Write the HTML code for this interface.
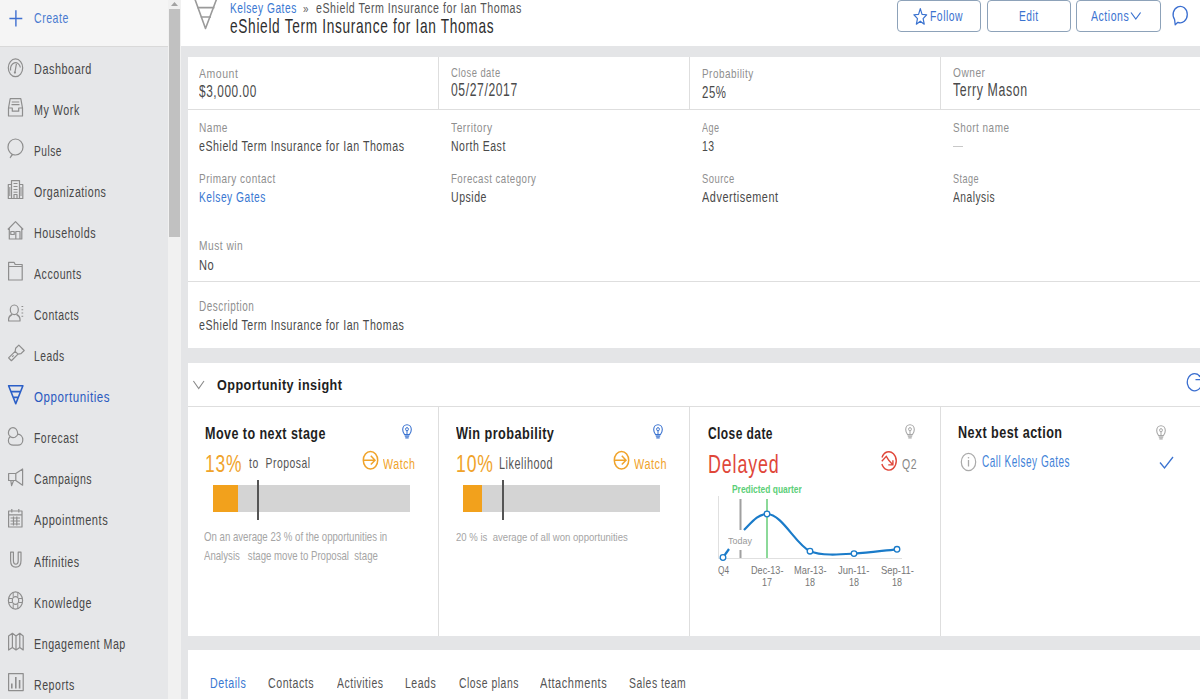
<!DOCTYPE html>
<html><head><meta charset="utf-8"><style>
html,body{margin:0;padding:0;width:1200px;height:700px;overflow:hidden;background:#e4e5e7;}
body{position:relative;font-family:"Liberation Sans",sans-serif;}
.r{position:absolute;box-sizing:content-box;}
.t{position:absolute;white-space:nowrap;line-height:1;transform-origin:0 0;}
</style></head><body>
<div class="r" style="left:0px;top:0px;width:168px;height:700px;background:#e6e7e9;"></div>
<div class="r" style="left:0px;top:0px;width:168px;height:46px;background:#f5f5f5;"></div>
<div class="r" style="left:0px;top:46px;width:168px;height:1px;background:#d9d9d9;"></div>
<div class="r" style="left:168px;top:0px;width:13px;height:700px;background:#f1f1f1;"></div>
<div class="r" style="left:169px;top:9px;width:11px;height:228px;background:#c1c1c1;"></div>
<svg class="r" style="left:168px;top:0px" width="13" height="9"><path d="M3 6 L6.5 2 L10 6 Z" fill="#a3a3a3"/></svg>
<div class="r" style="left:181px;top:0px;width:1019px;height:700px;background:#e4e5e7;"></div>
<div class="r" style="left:181px;top:0px;width:1019px;height:46px;background:#ffffff;"></div>
<div class="r" style="left:188px;top:57px;width:1012px;height:291px;background:#ffffff;"></div>
<div class="r" style="left:188px;top:363px;width:1012px;height:273px;background:#ffffff;"></div>
<div class="r" style="left:188px;top:650px;width:1012px;height:50px;background:#ffffff;"></div>
<div class="r" style="left:0px;top:699px;width:188px;height:1px;background:#fbfbfb;"></div>
<svg class="r" style="left:0;top:0" width="30" height="30"><path d="M15.9 10.3 V26.6 M9.4 18.5 H22.3" stroke="#3f6fd0" stroke-width="1.4" fill="none"/></svg>
<div class="t" id="t0" style="left:34.30px;top:11.10px;font-size:14.78px;color:#4a7bd0;letter-spacing:0.739px;transform:scaleX(0.7139);">Create</div>
<div class="t" id="t1" style="left:34.30px;top:61.71px;font-size:14.93px;color:#484848;letter-spacing:0.746px;transform:scaleX(0.7269);">Dashboard</div>
<div class="t" id="t2" style="left:34.30px;top:102.78px;font-size:14.93px;color:#484848;letter-spacing:0.746px;transform:scaleX(0.7173);">My Work</div>
<div class="t" id="t3" style="left:34.30px;top:143.84px;font-size:14.93px;color:#484848;letter-spacing:0.746px;transform:scaleX(0.6811);">Pulse</div>
<div class="t" id="t4" style="left:34.30px;top:184.93px;font-size:14.93px;color:#484848;letter-spacing:0.746px;transform:scaleX(0.7115);">Organizations</div>
<div class="t" id="t5" style="left:34.30px;top:225.98px;font-size:14.93px;color:#484848;letter-spacing:0.746px;transform:scaleX(0.7202);">Households</div>
<div class="t" id="t6" style="left:34.30px;top:267.06px;font-size:14.93px;color:#484848;letter-spacing:0.746px;transform:scaleX(0.7090);">Accounts</div>
<div class="t" id="t7" style="left:34.30px;top:308.13px;font-size:14.93px;color:#484848;letter-spacing:0.746px;transform:scaleX(0.6995);">Contacts</div>
<div class="t" id="t8" style="left:34.30px;top:349.21px;font-size:14.93px;color:#484848;letter-spacing:0.746px;transform:scaleX(0.6883);">Leads</div>
<div class="t" id="t9" style="left:34.30px;top:390.26px;font-size:14.93px;color:#2a5ac0;letter-spacing:0.746px;transform:scaleX(0.7742);">Opportunities</div>
<div class="t" id="t10" style="left:34.30px;top:431.34px;font-size:14.93px;color:#484848;letter-spacing:0.746px;transform:scaleX(0.6968);">Forecast</div>
<div class="t" id="t11" style="left:34.30px;top:472.41px;font-size:14.93px;color:#484848;letter-spacing:0.746px;transform:scaleX(0.7079);">Campaigns</div>
<div class="t" id="t12" style="left:34.30px;top:513.49px;font-size:14.93px;color:#484848;letter-spacing:0.746px;transform:scaleX(0.7413);">Appointments</div>
<div class="t" id="t13" style="left:34.30px;top:554.54px;font-size:14.93px;color:#484848;letter-spacing:0.746px;transform:scaleX(0.7192);">Affinities</div>
<div class="t" id="t14" style="left:34.30px;top:595.62px;font-size:14.93px;color:#484848;letter-spacing:0.746px;transform:scaleX(0.7187);">Knowledge</div>
<div class="t" id="t15" style="left:34.30px;top:636.69px;font-size:14.93px;color:#484848;letter-spacing:0.746px;transform:scaleX(0.7162);">Engagement Map</div>
<div class="t" id="t16" style="left:34.30px;top:677.76px;font-size:14.93px;color:#484848;letter-spacing:0.746px;transform:scaleX(0.7104);">Reports</div>
<svg class="r" style="left:0;top:0" width="30" height="700" viewBox="0 0 30 700"><g stroke="#8e8e8e" stroke-width="1.2" fill="none" stroke-linejoin="round">
<ellipse cx="15.5" cy="67.8" rx="7.2" ry="8.9"/><path d="M10.6 70.5 A5 6.2 0 0 1 20.4 67.5"/><path d="M14.9 72.5 L16.4 63.8"/><circle cx="14.9" cy="72.6" r="1.1" fill="#8e8e8e" stroke="none"/>
<path d="M10.2 98.6 H20.8 L22.5 108 V116 H8.5 V108 Z M8.5 108 H12.3 V111.2 H18.7 V108 H22.5 M11.8 102 H19.2 M11.5 104.6 H19.5"/>
<path d="M12.2 154.3 C9.6 152.6 8 150 8 147 C8 142.5 11.3 139 15.5 139 C19.7 139 23 142.5 23 147 C23 151.5 19.7 155 15.5 155 C14.5 155 13.6 154.8 12.7 154.5 L10.3 157.5 Z"/>
<path d="M11.5 198.5 V180.6 H19.5 V198.5 M8.3 198.5 V184.5 H11.5 M19.5 184.5 H22.8 V198.5 M7.8 198.5 H23.3 M14 198.5 V194.5 H17 V198.5"/>
<path d="M13.5 183.5 H17.5 M13.5 186.5 H17.5 M13.5 189.5 H17.5 M13.5 192.2 H17.5 M9.8 187 V196 M21 187 V196" stroke-width="1"/>
<path d="M7.8 229.5 L15.5 221.6 L23.2 229.5 M9.3 228 V239 H21.8 V228 M15.8 239 V231.5 H20 V239 M10.8 231.5 H14.2 V234.5 H10.8 Z"/>
<path d="M8.6 262.4 H14.2 L15.2 264.5 H22.2 V280 H8.6 Z M8.6 266.5 H22.2"/>
<ellipse cx="14.3" cy="309.8" rx="4" ry="4.8"/><path d="M12.2 314.4 C10 315.6 8.6 317.2 8.6 319 V321 H20 V319 C20 317.2 18.6 315.6 16.4 314.4"/>
<path d="M21.5 306.5 H23.2 M21.5 309.8 H23.2 M21.5 313 H23.2 M21.5 316.3 H23.2" stroke-width="1.1"/>
<g transform="translate(15.5 353.8) rotate(-45)"><path d="M-7.8 -2 H1.5 V2 H-7.8 Z M1.5 -2 L4 -3.8 H8.5 V3.8 H4 L1.5 2 M-4.5 -0.2 H-2.5"/></g>
<path d="M8.6 385.7 H22.9 L15.75 403.7 Z M11 391.6 H20.5 M13.3 397.4 H18.2" stroke="#2b5fc7" stroke-width="1.6"/>
<path d="M10.6 436 C9.2 437.3 8.4 439 8.4 440.8 C8.4 443.4 10.6 445.2 13.2 445.2 H17.8 C20.6 445.2 22.8 443 22.8 440 C22.8 436.8 20.6 434.3 17.8 434.2 C17.6 430.3 15.5 427.6 13 427.6 C10.3 427.6 8.4 430.2 8.4 433 C8.4 436.4 11.8 438.3 15 437.2 C16.5 436.4 17.5 435.5 17.8 434.2"/>
<path d="M8.6 473.5 H15.8 V480.5 H8.6 Z M15.8 473.5 L22.6 469 V485.2 L15.8 480.5 M10.8 480.5 L11.6 485.6 L13.6 480.5"/>
<path d="M8.6 511 H22 V527 H8.6 Z M8.6 514.8 H22 M11.8 509 V512.5 M18.8 509 V512.5 M10.5 518 H20 M10.5 521 H20 M10.5 524 H20 M13.5 516.5 V525.5 M16.8 516.5 V525.5" />
<path d="M10.6 552.2 V560.5 C10.6 564.8 12.8 567.2 15.8 567.2 C18.8 567.2 21 564.8 21 560.5 V552.2 H18.2 V560.5 C18.2 562.8 17.2 564.2 15.8 564.2 C14.4 564.2 13.4 562.8 13.4 560.5 V552.2 Z"/>
<ellipse cx="15.5" cy="600.5" rx="7.1" ry="8.6"/><ellipse cx="15.5" cy="600.5" rx="3.2" ry="3.9"/><path d="M13.2 592.5 V596.8 M17.8 592.5 V596.8 M13.2 604.2 V608.5 M17.8 604.2 V608.5 M8.6 598.5 H12.3 M8.6 602.5 H12.3 M18.7 598.5 H22.4 M18.7 602.5 H22.4" stroke-width="1"/>
<path d="M8.6 636 L12.4 633.3 L16 636 L19.8 633.3 L23.2 636 V650 L19.8 647.4 L16 650 L12.4 647.4 L8.6 650 Z M12.4 633.3 V647.4 M16 636 V650 M19.8 633.3 V647.4"/>
<path d="M8.6 673.6 H23.2 V690.6 H8.6 Z"/><path d="M11.8 683.5 V688.6 M15.8 677 V688.6 M19.6 680 V688.6" stroke-width="1.6"/>
</g></svg>
<svg class="r" style="left:190px;top:0" width="32" height="32"><path d="M4.5 -2 L15.5 28.5 L27 -2" stroke="#9a9a9a" stroke-width="1.6" fill="none" stroke-linejoin="round"/><path d="M7.4 7.6 H24.4 M10.8 17 H21" stroke="#9a9a9a" stroke-width="1.6"/></svg>
<div class="t" id="t17" style="left:230.00px;top:1.30px;font-size:14.49px;color:#3a78d2;letter-spacing:0.725px;transform:scaleX(0.7038);">Kelsey Gates</div>
<div class="t" id="t18" style="left:302.50px;top:2.81px;font-size:12.03px;color:#666;letter-spacing:0.601px;transform:scaleX(0.8165);">»</div>
<div class="t" id="t19" style="left:315.80px;top:1.30px;font-size:14.49px;color:#555;letter-spacing:0.725px;transform:scaleX(0.7355);">eShield Term Insurance for Ian Thomas</div>
<div class="t" id="t20" style="left:230.00px;top:16.71px;font-size:19.42px;color:#2e2e2e;letter-spacing:0.971px;transform:scaleX(0.7046);">eShield Term Insurance for Ian Thomas</div>
<div class="r" style="left:897px;top:0px;width:82px;height:30px;border:1px solid #8da2b9;border-radius:4px;background:#fff"></div>
<div class="r" style="left:987px;top:0px;width:82px;height:30px;border:1px solid #8da2b9;border-radius:4px;background:#fff"></div>
<div class="r" style="left:1076px;top:0px;width:83px;height:30px;border:1px solid #8da2b9;border-radius:4px;background:#fff"></div>
<svg class="r" style="left:912px;top:6px" width="17" height="20"><path d="M8.30 2.6 L10.04 8.33 L14.68 8.74 L11.12 12.57 L12.24 18.2 L8.30 15.2 L4.36 18.2 L5.48 12.57 L1.92 8.74 L6.56 8.33 Z" stroke="#3b73d0" stroke-width="1.2" fill="none" stroke-linejoin="round"/></svg>
<div class="t" id="t21" style="left:930.25px;top:9.26px;font-size:14.49px;color:#3b73d0;letter-spacing:0.725px;transform:scaleX(0.7174);">Follow</div>
<div class="t" id="t22" style="left:1018.75px;top:9.26px;font-size:14.49px;color:#3b73d0;letter-spacing:0.725px;transform:scaleX(0.7065);">Edit</div>
<div class="t" id="t23" style="left:1091.25px;top:9.26px;font-size:14.49px;color:#3b73d0;letter-spacing:0.725px;transform:scaleX(0.7276);">Actions</div>
<svg class="r" style="left:1130px;top:10px" width="12" height="12"><path d="M1 2.5 L5.8 9 L10.6 2.5" stroke="#3b73d0" stroke-width="1.2" fill="none"/></svg>
<svg class="r" style="left:1169px;top:4px" width="22" height="24"><path d="M5.6 15.6 A7.1 8.2 0 1 1 8.9 18.3 L6.2 20.8 Z" stroke="#3b6fd0" stroke-width="1.3" fill="none" stroke-linejoin="round"/></svg>
<div class="r" style="left:188px;top:109px;width:1012px;height:1px;background:#dedede;"></div>
<div class="r" style="left:438px;top:57px;width:1px;height:52px;background:#dedede;"></div>
<div class="r" style="left:689px;top:57px;width:1px;height:52px;background:#dedede;"></div>
<div class="r" style="left:940px;top:57px;width:1px;height:52px;background:#dedede;"></div>
<div class="r" style="left:188px;top:281px;width:1012px;height:1px;background:#dedede;"></div>
<div class="t" id="t24" style="left:199.00px;top:67.91px;font-size:12.46px;color:#8f8f8f;letter-spacing:0.623px;transform:scaleX(0.8435);">Amount</div>
<div class="t" id="t25" style="left:450.60px;top:65.71px;font-size:13.19px;color:#8f8f8f;letter-spacing:0.659px;transform:scaleX(0.7118);">Close date</div>
<div class="t" id="t26" style="left:701.70px;top:66.82px;font-size:13.19px;color:#8f8f8f;letter-spacing:0.659px;transform:scaleX(0.7524);">Probability</div>
<div class="t" id="t27" style="left:952.80px;top:66.70px;font-size:12.32px;color:#8f8f8f;letter-spacing:0.616px;transform:scaleX(0.8246);">Owner</div>
<div class="t" id="t28" style="left:199.00px;top:84.41px;font-size:15.94px;color:#4a4a4a;letter-spacing:0.797px;transform:scaleX(0.7424);">$3,000.00</div>
<div class="t" id="t29" style="left:450.60px;top:80.70px;font-size:18.55px;color:#4a4a4a;letter-spacing:0.928px;transform:scaleX(0.6548);">05/27/2017</div>
<div class="t" id="t30" style="left:701.70px;top:85.01px;font-size:15.94px;color:#4a4a4a;letter-spacing:0.797px;transform:scaleX(0.7169);">25%</div>
<div class="t" id="t31" style="left:952.80px;top:81.71px;font-size:17.54px;color:#4a4a4a;letter-spacing:0.877px;transform:scaleX(0.7052);">Terry Mason</div>
<div class="t" id="t32" style="left:199.20px;top:121.21px;font-size:13.48px;color:#8f8f8f;letter-spacing:0.674px;transform:scaleX(0.7498);">Name</div>
<div class="t" id="t33" style="left:450.60px;top:121.20px;font-size:13.48px;color:#8f8f8f;letter-spacing:0.674px;transform:scaleX(0.7604);">Territory</div>
<div class="t" id="t34" style="left:701.70px;top:121.20px;font-size:13.48px;color:#8f8f8f;letter-spacing:0.674px;transform:scaleX(0.6748);">Age</div>
<div class="t" id="t35" style="left:952.80px;top:121.20px;font-size:13.48px;color:#8f8f8f;letter-spacing:0.674px;transform:scaleX(0.7393);">Short name</div>
<div class="t" id="t36" style="left:199.00px;top:139.01px;font-size:14.93px;color:#4a4a4a;letter-spacing:0.746px;transform:scaleX(0.7127);">eShield Term Insurance for Ian Thomas</div>
<div class="t" id="t37" style="left:450.60px;top:139.01px;font-size:14.93px;color:#4a4a4a;letter-spacing:0.746px;transform:scaleX(0.7035);">North East</div>
<div class="t" id="t38" style="left:701.70px;top:140.00px;font-size:13.91px;color:#4a4a4a;letter-spacing:0.696px;transform:scaleX(0.7497);">13</div>
<div class="r" style="left:953px;top:146px;width:10px;height:1px;background:#c8c8c8;"></div>
<div class="t" id="t39" style="left:199.00px;top:172.01px;font-size:13.33px;color:#8f8f8f;letter-spacing:0.667px;transform:scaleX(0.7480);">Primary contact</div>
<div class="t" id="t40" style="left:450.60px;top:172.01px;font-size:13.33px;color:#8f8f8f;letter-spacing:0.667px;transform:scaleX(0.7236);">Forecast category</div>
<div class="t" id="t41" style="left:701.70px;top:172.01px;font-size:13.33px;color:#8f8f8f;letter-spacing:0.667px;transform:scaleX(0.7083);">Source</div>
<div class="t" id="t42" style="left:952.80px;top:172.01px;font-size:13.33px;color:#8f8f8f;letter-spacing:0.667px;transform:scaleX(0.6833);">Stage</div>
<div class="t" id="t43" style="left:199.00px;top:189.41px;font-size:15.07px;color:#3a78d2;letter-spacing:0.754px;transform:scaleX(0.6778);">Kelsey Gates</div>
<div class="t" id="t44" style="left:450.60px;top:189.41px;font-size:15.07px;color:#4a4a4a;letter-spacing:0.754px;transform:scaleX(0.6990);">Upside</div>
<div class="t" id="t45" style="left:701.70px;top:189.41px;font-size:15.07px;color:#4a4a4a;letter-spacing:0.754px;transform:scaleX(0.7223);">Advertisement</div>
<div class="t" id="t46" style="left:952.80px;top:189.41px;font-size:15.07px;color:#4a4a4a;letter-spacing:0.754px;transform:scaleX(0.6781);">Analysis</div>
<div class="t" id="t47" style="left:199.00px;top:238.70px;font-size:13.04px;color:#8f8f8f;letter-spacing:0.652px;transform:scaleX(0.7809);">Must win</div>
<div class="t" id="t48" style="left:199.00px;top:257.60px;font-size:14.49px;color:#4a4a4a;letter-spacing:0.725px;transform:scaleX(0.7678);">No</div>
<div class="t" id="t49" style="left:199.00px;top:299.01px;font-size:14.93px;color:#8f8f8f;letter-spacing:0.746px;transform:scaleX(0.6662);">Description</div>
<div class="t" id="t50" style="left:199.00px;top:317.32px;font-size:15.51px;color:#4a4a4a;letter-spacing:0.775px;transform:scaleX(0.6860);">eShield Term Insurance for Ian Thomas</div>
<div class="r" style="left:188px;top:406px;width:1012px;height:1px;background:#dedede;"></div>
<div class="r" style="left:438px;top:407px;width:1px;height:229px;background:#dedede;"></div>
<div class="r" style="left:689px;top:407px;width:1px;height:229px;background:#dedede;"></div>
<div class="r" style="left:940px;top:407px;width:1px;height:229px;background:#dedede;"></div>
<svg class="r" style="left:192px;top:378px" width="14" height="14"><path d="M1.4 3 L6.7 10.5 L12 3" stroke="#8a8a8a" stroke-width="1.1" fill="none"/></svg>
<div class="t" id="t51" style="left:216.60px;top:377.31px;font-size:15.22px;color:#1e1e1e;font-weight:bold;letter-spacing:0.533px;transform:scaleX(0.8289);">Opportunity insight</div>
<svg class="r" style="left:1176px;top:366px" width="24" height="32" viewBox="1176 366 24 32"><path d="M1200.19 376.67 A7.3 8.6 0 1 0 1201.65 384.43" stroke="#3b6fd0" stroke-width="1.3" fill="none"/><path d="M1195.5 379.6 H1203 M1199 375.5 L1203 379.6" stroke="#3b6fd0" stroke-width="1.4" fill="none"/></svg>
<div class="t" id="t52" style="left:205.00px;top:426.01px;font-size:15.65px;color:#1e1e1e;font-weight:bold;letter-spacing:0.548px;transform:scaleX(0.8024);">Move to next stage</div>
<svg class="r" style="left:402.3px;top:423.5px" width="10" height="16" viewBox="0 0 10 16"><path d="M2.6 10.6 C1.4 9.3 0.7 7.6 0.7 5.6 C0.7 2.8 2.6 0.7 5 0.7 C7.4 0.7 9.3 2.8 9.3 5.6 C9.3 7.6 8.6 9.3 7.4 10.6 Z" stroke="#3b73d0" stroke-width="1.1" fill="none"/><ellipse cx="5" cy="5.2" rx="1.4" ry="1.6" stroke="#3b73d0" stroke-width="1" fill="none"/><path d="M5 6.8 V10.6" stroke="#3b73d0" stroke-width="1"/><path d="M2.8 12.2 H7.2 M3.3 13.9 H6.7" stroke="#3b73d0" stroke-width="1.3"/></svg>
<div class="t" id="t53" style="left:205.00px;top:452.01px;font-size:24.64px;color:#f0a32a;letter-spacing:1.232px;transform:scaleX(0.7074);">13%</div>
<div class="t" id="t54" style="left:248.75px;top:456.40px;font-size:14.20px;color:#555;letter-spacing:0.710px;transform:scaleX(0.7322);">to&nbsp;&nbsp;Proposal</div>
<svg class="r" style="left:361.5px;top:450px" width="18" height="21"><ellipse cx="8.5" cy="10.2" rx="7.2" ry="8.8" stroke="#f0a32a" stroke-width="1.5" fill="none"/><path d="M1.5 10.2 H13 M8.8 5.8 L13 10.2 L8.8 14.6" stroke="#f0a32a" stroke-width="1.5" fill="none"/></svg>
<div class="t" id="t55" style="left:383.00px;top:455.90px;font-size:15.51px;color:#f0a32a;letter-spacing:0.775px;transform:scaleX(0.6879);">Watch</div>
<div class="r" style="left:213px;top:485px;width:197px;height:27px;background:#d4d4d4;"></div>
<div class="r" style="left:213px;top:485px;width:25px;height:27px;background:#f2a11c;"></div>
<div class="r" style="left:256.5px;top:480px;width:2.0px;height:40px;background:#555;"></div>
<div class="t" id="t56" style="left:204.40px;top:530.80px;font-size:12.03px;color:#a5a5a5;transform:scaleX(0.8016);">On an average 23 % of the opportunities in</div>
<div class="t" id="t57" style="left:204.40px;top:550.01px;font-size:12.32px;color:#a5a5a5;transform:scaleX(0.7816);">Analysis&nbsp;&nbsp;&nbsp;stage&nbsp;move&nbsp;to&nbsp;Proposal&nbsp;&nbsp;stage</div>
<div class="t" id="t58" style="left:456.00px;top:426.01px;font-size:15.94px;color:#1e1e1e;font-weight:bold;letter-spacing:0.558px;transform:scaleX(0.7973);">Win probability</div>
<svg class="r" style="left:653.3px;top:423.5px" width="10" height="16" viewBox="0 0 10 16"><path d="M2.6 10.6 C1.4 9.3 0.7 7.6 0.7 5.6 C0.7 2.8 2.6 0.7 5 0.7 C7.4 0.7 9.3 2.8 9.3 5.6 C9.3 7.6 8.6 9.3 7.4 10.6 Z" stroke="#3b73d0" stroke-width="1.1" fill="none"/><ellipse cx="5" cy="5.2" rx="1.4" ry="1.6" stroke="#3b73d0" stroke-width="1" fill="none"/><path d="M5 6.8 V10.6" stroke="#3b73d0" stroke-width="1"/><path d="M2.8 12.2 H7.2 M3.3 13.9 H6.7" stroke="#3b73d0" stroke-width="1.3"/></svg>
<div class="t" id="t59" style="left:456.00px;top:452.01px;font-size:24.64px;color:#f0a32a;letter-spacing:1.232px;transform:scaleX(0.7151);">10%</div>
<div class="t" id="t60" style="left:499.40px;top:456.01px;font-size:15.94px;color:#555;letter-spacing:0.797px;transform:scaleX(0.6792);">Likelihood</div>
<svg class="r" style="left:612.5px;top:450px" width="18" height="21"><ellipse cx="8.5" cy="10.2" rx="7.2" ry="8.8" stroke="#f0a32a" stroke-width="1.5" fill="none"/><path d="M1.5 10.2 H13 M8.8 5.8 L13 10.2 L8.8 14.6" stroke="#f0a32a" stroke-width="1.5" fill="none"/></svg>
<div class="t" id="t61" style="left:634.00px;top:455.90px;font-size:15.51px;color:#f0a32a;letter-spacing:0.775px;transform:scaleX(0.7007);">Watch</div>
<div class="r" style="left:463px;top:485px;width:197px;height:27px;background:#d4d4d4;"></div>
<div class="r" style="left:463px;top:485px;width:19.399999999999977px;height:27px;background:#f2a11c;"></div>
<div class="r" style="left:501.5px;top:480px;width:2.0px;height:40px;background:#555;"></div>
<div class="t" id="t62" style="left:456.00px;top:532.00px;font-size:11.59px;color:#a5a5a5;transform:scaleX(0.8265);">20&nbsp;%&nbsp;is&nbsp;&nbsp;average&nbsp;of&nbsp;all&nbsp;won&nbsp;opportunities</div>
<div class="t" id="t63" style="left:707.70px;top:426.21px;font-size:16.67px;color:#1e1e1e;font-weight:bold;letter-spacing:0.583px;transform:scaleX(0.7211);">Close date</div>
<svg class="r" style="left:904.5px;top:423.8px" width="10" height="16" viewBox="0 0 10 16"><path d="M2.6 10.6 C1.4 9.3 0.7 7.6 0.7 5.6 C0.7 2.8 2.6 0.7 5 0.7 C7.4 0.7 9.3 2.8 9.3 5.6 C9.3 7.6 8.6 9.3 7.4 10.6 Z" stroke="#a8a8a8" stroke-width="1.1" fill="none"/><ellipse cx="5" cy="5.2" rx="1.4" ry="1.6" stroke="#a8a8a8" stroke-width="1" fill="none"/><path d="M5 6.8 V10.6" stroke="#a8a8a8" stroke-width="1"/><path d="M2.8 12.2 H7.2 M3.3 13.9 H6.7" stroke="#a8a8a8" stroke-width="1.3"/></svg>
<div class="t" id="t64" style="left:707.70px;top:451.51px;font-size:25.65px;color:#e0473a;letter-spacing:1.283px;transform:scaleX(0.6952);">Delayed</div>
<svg class="r" style="left:870px;top:440px" width="40" height="40" viewBox="870 440 40 40"><path d="M882 457.5 A7.4 9.2 0 1 1 881.9 464" stroke="#e0473a" stroke-width="1.4" fill="none"/><path d="M881.8 461.2 L886.3 456.3 L888.8 460.3 L892.6 464.6 M888.3 464.9 H892.9 V460.2" stroke="#e0473a" stroke-width="1.4" fill="none" stroke-linejoin="miter"/></svg>
<div class="t" id="t65" style="left:901.50px;top:456.41px;font-size:15.07px;color:#888;letter-spacing:0.754px;transform:scaleX(0.6971);">Q2</div>
<svg class="r" style="left:700px;top:480px" width="230" height="115" viewBox="700 480 230 115">
<path d="M718.5 496 V558.5 H902" stroke="#e0e0e0" stroke-width="1" fill="none"/>
<path d="M740.5 499 V530 M740.5 550 V558" stroke="#a0a0a0" stroke-width="2" fill="none"/>
<path d="M767 499 V558" stroke="#66cc77" stroke-width="1.5" fill="none"/>
<path d="M723 557.5 L729 549" stroke="#1a7bc9" stroke-width="2.2" fill="none"/>
<path d="M744 530 C752 522 758 514 767 514 C782 514 796 545 810 551.2 C822 556 840 554.5 854 553.6 C870 552.5 884 550.5 897 549.3" stroke="#1a7bc9" stroke-width="2.2" fill="none"/>
<g fill="#fff" stroke="#1a7bc9" stroke-width="1.3">
<circle cx="723" cy="557.5" r="2.8"/><circle cx="767" cy="514" r="2.8"/><circle cx="810" cy="551.2" r="2.8"/><circle cx="854" cy="553.6" r="2.8"/><circle cx="897" cy="549.3" r="2.8"/>
</g>
</svg>
<div class="t" id="t66" style="left:732.00px;top:485.31px;font-size:10.00px;color:#5ccf78;font-weight:bold;transform:scaleX(0.8430);">Predicted quarter</div>
<div class="t" id="t67" style="left:728.40px;top:535.51px;font-size:9.42px;color:#999;transform:scaleX(0.9502);">Today</div>
<div class="t" id="t68" style="left:718.00px;top:564.81px;font-size:11.30px;color:#777;transform:scaleX(0.7316);">Q4</div>
<div class="t" id="t69" style="left:750.50px;top:564.81px;font-size:11.30px;color:#777;transform:scaleX(0.8076);">Dec-13-</div>
<div class="t" id="t70" style="left:762.00px;top:577.51px;font-size:10.43px;color:#777;transform:scaleX(0.8634);">17</div>
<div class="t" id="t71" style="left:794.00px;top:564.81px;font-size:11.30px;color:#777;transform:scaleX(0.8214);">Mar-13-</div>
<div class="t" id="t72" style="left:805.00px;top:577.51px;font-size:10.43px;color:#777;transform:scaleX(0.8634);">18</div>
<div class="t" id="t73" style="left:838.00px;top:564.81px;font-size:11.30px;color:#777;transform:scaleX(0.8393);">Jun-11-</div>
<div class="t" id="t74" style="left:849.00px;top:577.51px;font-size:10.43px;color:#777;transform:scaleX(0.8634);">18</div>
<div class="t" id="t75" style="left:881.00px;top:564.81px;font-size:11.30px;color:#777;transform:scaleX(0.8389);">Sep-11-</div>
<div class="t" id="t76" style="left:892.00px;top:577.51px;font-size:10.43px;color:#777;transform:scaleX(0.8634);">18</div>
<div class="t" id="t77" style="left:958.40px;top:425.22px;font-size:15.80px;color:#1e1e1e;font-weight:bold;letter-spacing:0.553px;transform:scaleX(0.7985);">Next best action</div>
<svg class="r" style="left:1156.3px;top:424.5px" width="10" height="16" viewBox="0 0 10 16"><path d="M2.6 10.6 C1.4 9.3 0.7 7.6 0.7 5.6 C0.7 2.8 2.6 0.7 5 0.7 C7.4 0.7 9.3 2.8 9.3 5.6 C9.3 7.6 8.6 9.3 7.4 10.6 Z" stroke="#a8a8a8" stroke-width="1.1" fill="none"/><ellipse cx="5" cy="5.2" rx="1.4" ry="1.6" stroke="#a8a8a8" stroke-width="1" fill="none"/><path d="M5 6.8 V10.6" stroke="#a8a8a8" stroke-width="1"/><path d="M2.8 12.2 H7.2 M3.3 13.9 H6.7" stroke="#a8a8a8" stroke-width="1.3"/></svg>
<svg class="r" style="left:959px;top:451px" width="19" height="22"><ellipse cx="9.5" cy="11" rx="7.2" ry="8.6" stroke="#aaa" stroke-width="1.2" fill="none"/><path d="M9.5 9 V15.5" stroke="#aaa" stroke-width="1.3"/><circle cx="9.5" cy="6.8" r="0.8" fill="#aaa"/></svg>
<div class="t" id="t78" style="left:982.30px;top:454.41px;font-size:15.65px;color:#4282d8;letter-spacing:0.783px;transform:scaleX(0.6403);">Call Kelsey Gates</div>
<svg class="r" style="left:1158px;top:455px" width="17" height="16"><path d="M2 7.5 L6.5 13 L15 2" stroke="#3b73d0" stroke-width="1.3" fill="none"/></svg>
<div class="t" id="t79" style="left:210.00px;top:674.50px;font-size:15.22px;color:#3a78d2;letter-spacing:0.761px;transform:scaleX(0.7002);">Details</div>
<div class="t" id="t80" style="left:268.30px;top:674.50px;font-size:15.22px;color:#555;letter-spacing:0.761px;transform:scaleX(0.6984);">Contacts</div>
<div class="t" id="t81" style="left:336.70px;top:674.50px;font-size:15.22px;color:#555;letter-spacing:0.761px;transform:scaleX(0.6870);">Activities</div>
<div class="t" id="t82" style="left:405.30px;top:674.50px;font-size:15.22px;color:#555;letter-spacing:0.761px;transform:scaleX(0.6909);">Leads</div>
<div class="t" id="t83" style="left:458.70px;top:674.50px;font-size:15.22px;color:#555;letter-spacing:0.761px;transform:scaleX(0.6813);">Close plans</div>
<div class="t" id="t84" style="left:540.00px;top:674.50px;font-size:15.22px;color:#555;letter-spacing:0.761px;transform:scaleX(0.7233);">Attachments</div>
<div class="t" id="t85" style="left:629.30px;top:674.50px;font-size:15.22px;color:#555;letter-spacing:0.761px;transform:scaleX(0.6837);">Sales team</div>
</body></html>
